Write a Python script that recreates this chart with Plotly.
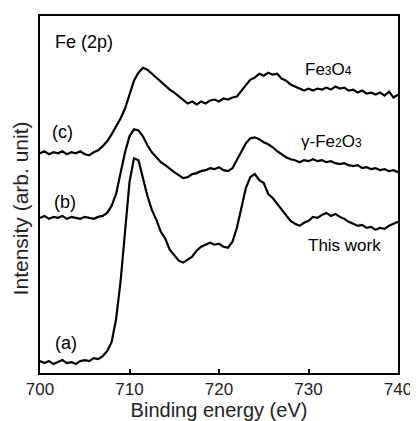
import plotly.graph_objects as go

# binding energy grid (eV), read at 0.5 eV steps
energy = [
    700.0, 700.5, 701.0, 701.5, 702.0, 702.5, 703.0, 703.5, 704.0, 704.5,
    705.0, 705.5, 706.0, 706.5, 707.0, 707.5, 708.0, 708.5, 709.0, 709.5,
    710.0, 710.5, 711.0, 711.5, 712.0, 712.5, 713.0, 713.5, 714.0, 714.5,
    715.0, 715.5, 716.0, 716.5, 717.0, 717.5, 718.0, 718.5, 719.0, 719.5,
    720.0, 720.5, 721.0, 721.5, 722.0, 722.5, 723.0, 723.5, 724.0, 724.5,
    725.0, 725.5, 726.0, 726.5, 727.0, 727.5, 728.0, 728.5, 729.0, 729.5,
    730.0, 730.5, 731.0, 731.5, 732.0, 732.5, 733.0, 733.5, 734.0, 734.5,
    735.0, 735.5, 736.0, 736.5, 737.0, 737.5, 738.0, 738.5, 739.0, 739.5,
    740.0,
]

# (c) Fe3O4 reference, offset intensity
fe3o4 = [
    221, 223, 220, 222, 221, 223, 220, 222, 221, 223,
    220, 219, 222, 224, 228, 233, 240, 248, 256, 266,
    281, 294, 302, 307, 305, 301, 296, 292, 289, 285,
    282, 278, 275, 271, 273, 270, 273, 271, 274, 275,
    273, 276, 275, 277, 278, 284, 290, 295, 297, 301,
    299, 302, 300, 301, 296, 294, 290, 288, 286, 284,
    286, 284, 286, 285, 287, 285, 288, 286, 287, 284,
    285, 282, 284, 281, 282, 280, 282, 279, 283, 277,
    280,
]

# (b) gamma-Fe2O3 reference
fe2o3 = [
    156, 158, 155, 157, 156, 158, 155, 157, 156, 155,
    157, 156, 155, 157, 158, 161, 168, 180, 202, 222,
    238, 245, 244, 238, 229, 222, 217, 212, 209, 205,
    202, 199, 196, 197, 200, 201, 203, 204, 206, 205,
    207, 204, 203, 206, 214, 223, 231, 236, 237, 235,
    232, 230, 227, 223, 220, 217, 215, 214, 212, 214,
    213, 215, 213, 214, 212, 213, 211, 210, 211, 209,
    208, 209, 206, 207, 205, 206, 204, 205, 203, 204,
    202,
]

# (a) this work
this_work = [
    12, 10, 12, 9, 11, 13, 10, 11, 9, 12,
    13, 12, 15, 14, 17, 22, 31, 54, 92, 146,
    192, 216, 214, 196, 178, 164, 154, 142, 135, 124,
    118, 113, 111, 114, 117, 123, 127, 129, 131, 129,
    130, 127, 126, 132, 146, 166, 186, 197, 200, 194,
    191, 180, 176, 170, 164, 158, 153, 150, 148, 151,
    153, 157, 156, 159, 161, 158, 160, 157, 155, 152,
    150, 148, 149, 146, 147, 144, 146, 145, 148, 150,
    152,
]

FONT = "Liberation Sans, Arial, sans-serif"

fig = go.Figure()
for ys in [fe3o4, fe2o3, this_work]:
    fig.add_trace(go.Scatter(
        x=energy, y=ys, mode='lines',
        line=dict(color='black', width=2.2),
        showlegend=False, hoverinfo='skip'
    ))

labels = [
    dict(x=701.4, y=333, text="Fe (2p)", size=18),
    dict(x=729.4, y=305, text="Fe<span style='font-size:12px'>3</span>O<span style='font-size:12px'>4</span>", size=17),
    dict(x=728.9, y=233, text="γ-Fe<span style='font-size:12px'>2</span>O<span style='font-size:12px'>3</span>", size=17),
    dict(x=729.7, y=128, text="This work", size=17),
    dict(x=701.1, y=242, text="(c)", size=18),
    dict(x=701.3, y=172, text="(b)", size=18),
    dict(x=701.4, y=30, text="(a)", size=18),
]
annotations = []
for lab in labels:
    annotations.append(dict(
        x=lab['x'], y=lab['y'], xref='x', yref='y', text=lab['text'],
        showarrow=False, xanchor='left', yanchor='middle',
        font=dict(family=FONT, size=lab['size'], color='black')
    ))
annotations.append(dict(
    x=-0.055, y=0.462, xref='paper', yref='paper', text="Intensity (arb. unit)",
    textangle=-90, showarrow=False, xanchor='center', yanchor='middle',
    font=dict(family=FONT, size=21, color='#222')
))

# page body has an 8px margin, so the figure is 8px smaller on each axis
fig.update_layout(
    width=410, height=413,
    margin=dict(l=32, r=14, t=6, b=48),
    paper_bgcolor='white', plot_bgcolor='white',
    font=dict(family=FONT, color='#222'),
    xaxis=dict(
        range=[700, 740], tickvals=[700, 710, 720, 730, 740],
        ticks='inside', ticklen=4, tickwidth=2, tickcolor='black',
        showline=True, linecolor='black', linewidth=2, mirror=True,
        showgrid=False, zeroline=False,
        tickfont=dict(size=17), ticklabeloverflow='allow',
        title=dict(text="Binding energy (eV)", font=dict(size=20), standoff=0),
    ),
    yaxis=dict(
        range=[0, 359], showticklabels=False, ticks='',
        showline=True, linecolor='black', linewidth=2, mirror=True,
        showgrid=False, zeroline=False,
    ),
    annotations=annotations,
)

fig.write_html("out.html")
